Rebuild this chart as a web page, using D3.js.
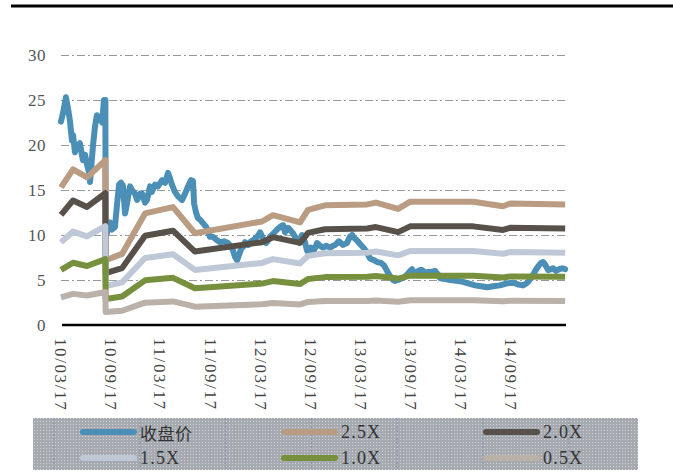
<!DOCTYPE html>
<html><head><meta charset="utf-8">
<script src="https://cdn.jsdelivr.net/npm/d3@7"></script>
<style>html,body{margin:0;padding:0;background:#fff;}svg{display:block;}</style>
</head><body>
<svg id="chart" width="673" height="475"></svg>
<script>
// ---- data ----
const priceDates = ["2010-03-17","2010-03-24","2010-04-04","2010-04-12","2010-04-19","2010-04-26","2010-04-30","2010-05-07","2010-05-14","2010-05-25","2010-06-02","2010-06-05","2010-06-13","2010-06-20","2010-06-27","2010-07-01","2010-07-08","2010-07-12","2010-07-19","2010-07-26","2010-08-03","2010-08-06","2010-08-14","2010-08-21","2010-08-26","2010-08-27","2010-09-01","2010-09-12","2010-09-19","2010-09-30","2010-10-08","2010-10-15","2010-10-22","2010-10-29","2010-11-06","2010-11-13","2010-11-20","2010-11-24","2010-12-01","2010-12-12","2010-12-20","2010-12-31","2011-01-07","2011-01-18","2011-01-25","2011-02-05","2011-02-12","2011-02-23","2011-03-06","2011-03-21","2011-04-01","2011-04-12","2011-04-19","2011-04-26","2011-05-07","2011-05-18","2011-06-02","2011-06-13","2011-06-24","2011-07-05","2011-07-12","2011-07-16","2011-07-23","2011-07-30","2011-08-10","2011-08-18","2011-08-29","2011-09-12","2011-09-23","2011-10-04","2011-10-19","2011-11-02","2011-11-17","2011-11-28","2011-12-05","2011-12-12","2011-12-20","2011-12-27","2012-01-03","2012-01-11","2012-01-18","2012-01-29","2012-02-05","2012-02-20","2012-03-02","2012-03-13","2012-03-24","2012-04-04","2012-04-11","2012-04-18","2012-04-29","2012-05-14","2012-05-25","2012-06-05","2012-06-12","2012-06-23","2012-06-30","2012-07-11","2012-07-22","2012-08-02","2012-08-13","2012-08-24","2012-08-31","2012-09-08","2012-09-15","2012-09-26","2012-10-07","2012-10-18","2012-10-29","2012-11-09","2012-11-23","2012-12-04","2012-12-12","2012-12-26","2013-01-10","2013-01-24","2013-02-04","2013-02-12","2013-02-19","2013-03-02","2013-03-13","2013-03-28","2013-04-08","2013-04-18","2013-05-03","2013-05-14","2013-05-29","2013-06-09","2013-06-16","2013-06-23","2013-07-01","2013-07-11","2013-07-19","2013-07-30","2013-08-06","2013-08-21","2013-09-01","2013-09-12","2013-09-19","2013-09-26","2013-10-07","2013-10-18","2013-10-25","2013-11-05","2013-11-13","2013-11-27","2013-12-12","2013-12-23","2013-12-30","2014-01-17","2014-02-05","2014-02-27","2014-03-24","2014-04-15","2014-05-07","2014-05-29","2014-06-20","2014-07-12","2014-08-06","2014-08-28","2014-09-23","2014-10-11","2014-10-29","2014-11-09","2014-11-17","2014-11-27","2014-12-05","2014-12-16","2014-12-23","2015-01-03","2015-01-10","2015-01-18","2015-01-29","2015-02-09","2015-02-16","2015-02-27","2015-03-10","2015-03-21","2015-04-01"];
const priceValues = [22.6,23.5,25.3,24.0,22.6,20.5,21.1,19.2,19.8,20.2,18.8,18.3,18.9,17.8,17.0,15.9,18.5,20.0,22.0,23.3,23.0,23.0,22.5,25.0,25.0,10.5,10.2,11.4,10.6,10.9,13.5,15.6,15.8,15.5,12.4,13.5,14.8,15.4,15.0,14.6,13.9,14.6,14.6,13.6,13.9,15.4,14.8,15.6,15.4,16.1,15.8,16.9,16.3,15.6,14.8,14.3,13.9,14.6,15.4,16.1,16.0,13.5,12.5,11.9,11.6,11.3,10.9,9.8,9.8,9.5,9.2,9.3,9.1,8.7,8.3,7.6,7.2,7.8,8.4,8.7,9.2,8.9,9.2,9.5,9.8,10.3,9.6,9.1,9.4,9.8,10.1,10.6,10.9,11.1,10.3,10.8,10.6,10.2,9.6,9.2,10.0,9.2,8.3,7.9,8.6,8.3,9.1,8.8,8.6,8.8,8.6,8.8,8.9,9.3,8.9,9.1,9.8,10.0,9.7,9.4,9.0,8.5,8.0,7.4,7.2,7.0,6.9,6.6,6.2,5.8,5.4,5.0,4.9,5.0,5.1,5.3,5.6,6.0,6.2,5.8,5.9,6.1,6.1,5.8,5.9,5.9,6.0,5.6,5.2,5.1,5.0,4.9,4.8,4.6,4.4,4.3,4.2,4.3,4.4,4.6,4.7,4.5,4.4,4.6,4.8,5.2,5.6,6.2,6.5,6.9,7.0,6.7,6.1,6.2,6.3,6.0,6.2,6.3,6.2];

const bandDates = ["2010-03-17","2010-04-30","2010-06-20","2010-08-26","2010-08-27","2010-10-26","2011-01-18","2011-04-30","2011-07-19","2012-03-20","2012-04-29","2012-08-06","2012-09-04","2012-11-05","2013-04-08","2013-05-10","2013-07-30","2013-09-12","2014-04-30","2014-08-17","2014-09-12","2015-04-01"];
const band25 = [15.3,17.3,16.4,18.3,7.2,7.9,12.4,13.1,10.2,11.5,12.2,11.4,12.8,13.3,13.4,13.6,12.9,13.7,13.7,13.2,13.5,13.4];
const band20 = [12.24,13.84,13.12,14.64,5.76,6.32,9.92,10.48,8.16,9.2,9.76,9.12,10.24,10.64,10.72,10.88,10.32,10.96,10.96,10.56,10.8,10.72];
const band15 = [9.18,10.38,9.84,10.98,4.32,4.74,7.44,7.86,6.12,6.9,7.32,6.84,7.68,7.98,8.04,8.16,7.74,8.22,8.22,7.92,8.1,8.04];
const band10 = [6.12,6.92,6.56,7.32,2.88,3.16,4.96,5.24,4.08,4.6,4.88,4.56,5.12,5.32,5.36,5.44,5.16,5.48,5.48,5.28,5.4,5.36];
const band05 = [3.06,3.46,3.28,3.66,1.44,1.58,2.48,2.62,2.04,2.3,2.44,2.28,2.56,2.66,2.68,2.72,2.58,2.74,2.74,2.64,2.7,2.68];

const seriesNames = ["收盘价","2.5X","2.0X","1.5X","1.0X","0.5X"];
const seriesColors = ["#4b8fb6","#b99c82","#58514a","#bfc8d6","#76903e","#bbb1a9"];
const xTickDates = ["2010-03-17","2010-09-17","2011-03-17","2011-09-17","2012-03-17","2012-09-17","2013-03-17","2013-09-17","2014-03-17","2014-09-17"];
const yTicks = [0,5,10,15,20,25,30];
const xDomain = ["2010-03-17","2015-04-04"];

// ---- drawing ----
const parse = d3.timeParse("%Y-%m-%d");
const svg = d3.select("#chart");
const plotLeft = 61, plotRight = 566, plotTop = 55, plotBottom = 325;

const x = d3.scaleTime().domain(xDomain.map(parse)).range([plotLeft, plotRight]);
const y = d3.scaleLinear().domain([0, 30]).range([plotBottom, plotTop]);

// top rule
svg.append("line").attr("x1", 11).attr("x2", 673).attr("y1", 6).attr("y2", 6)
  .attr("stroke", "#000").attr("stroke-width", 3);

// gridlines
svg.append("g").selectAll("line").data(yTicks.filter(d => d > 0)).join("line")
  .attr("x1", plotLeft).attr("x2", plotRight + 1)
  .attr("y1", d => Math.round(y(d)) + 0.5).attr("y2", d => Math.round(y(d)) + 0.5)
  .attr("stroke", "#9a9a9a").attr("stroke-width", 1.2)
  .attr("stroke-dasharray", "8,3,2,3");

// y axis labels
const yAxis = d3.axisLeft(y).tickValues(yTicks).tickSize(0).tickPadding(0).tickFormat(d3.format("d"));
const gy = svg.append("g").attr("transform", `translate(46,0)`).call(yAxis);
gy.select(".domain").remove();
gy.selectAll("text").attr("font-family", "'Liberation Serif', 'DejaVu Serif', serif")
  .attr("font-size", 17).attr("fill", "#555").attr("letter-spacing", 0.5);

// x axis labels (rotated)
const xAxis = d3.axisBottom(x).tickValues(xTickDates.map(parse)).tickSize(0).tickFormat(d3.timeFormat("%y/%m/%d"));
const gx = svg.append("g").attr("transform", `translate(0,${plotBottom})`).call(xAxis);
gx.select(".domain").remove();
gx.selectAll(".tick").attr("transform", d => `translate(${x(d) - 1},0)`);
gx.selectAll("text")
  .attr("font-family", "'Liberation Serif', 'DejaVu Serif', serif")
  .attr("font-size", 17).attr("fill", "#444")
  .attr("letter-spacing", 1.6)
  .attr("text-anchor", "start")
  .attr("dominant-baseline", "central")
  .attr("dy", null)
  .attr("y", 0)
  .attr("transform", "translate(0,13) rotate(90)");

// series
const bands = [band25, band20, band15, band10, band05];
const line = d3.line().x(d => x(d[0])).y(d => y(d[1])).curve(d3.curveLinear);
const plot = svg.append("g");
plot.append("path")
  .datum(priceDates.map((d, i) => [parse(d), priceValues[i]]))
  .attr("d", line).attr("fill", "none").attr("stroke", seriesColors[0])
  .attr("stroke-width", 6).attr("stroke-linejoin", "round").attr("stroke-linecap", "round");
bands.forEach((b, k) => {
  plot.append("path")
    .datum(bandDates.map((d, i) => [parse(d), b[i]]))
    .attr("d", line).attr("fill", "none").attr("stroke", seriesColors[k + 1])
    .attr("stroke-width", 6).attr("stroke-linejoin", "round").attr("stroke-linecap", "butt");
});

// x axis baseline
svg.append("line").attr("x1", plotLeft + 1).attr("x2", plotRight).attr("y1", plotBottom).attr("y2", plotBottom)
  .attr("stroke", "#000").attr("stroke-width", 2.5);

// legend
const defs = svg.append("defs");
const pat = defs.append("pattern").attr("id", "dots").attr("width", 3).attr("height", 3)
  .attr("patternUnits", "userSpaceOnUse");
pat.append("rect").attr("width", 3).attr("height", 3).attr("fill", "#a6aab0");
pat.append("rect").attr("x", 1).attr("y", 1).attr("width", 1).attr("height", 1).attr("fill", "#cfd2d6");

const lg = svg.append("g");
lg.append("rect").attr("x", 33).attr("y", 418).attr("width", 605).attr("height", 52).attr("fill", "url(#dots)");
const vLines = d3.range(7).map(i => 54 + i * 85.8);
lg.selectAll("line.v").data(vLines).join("line").attr("class", "v")
  .attr("x1", d => d).attr("x2", d => d).attr("y1", 418).attr("y2", 470)
  .attr("stroke", "#7f93b2").attr("stroke-width", 1).attr("stroke-dasharray", "2,2");

const colX = [80, 281, 483];
const rowY = [432, 458];
seriesNames.forEach((name, i) => {
  const cx = colX[i % 3], cy = rowY[Math.floor(i / 3)];
  lg.append("line").attr("x1", cx + 3).attr("x2", cx + 54).attr("y1", cy).attr("y2", cy)
    .attr("stroke", seriesColors[i]).attr("stroke-width", 6).attr("stroke-linecap", "round");
  lg.append("text").attr("x", cx + 60).attr("y", cy).attr("dominant-baseline", "central")
    .attr("font-family", i === 0 ? "'Noto Sans CJK SC', sans-serif" : "'Liberation Serif', serif")
    .attr("font-size", i === 0 ? 17 : 18).attr("fill", "#333")
    .attr("letter-spacing", i === 0 ? 0.5 : 1.2)
    .text(name);
});
</script>
</body></html>
